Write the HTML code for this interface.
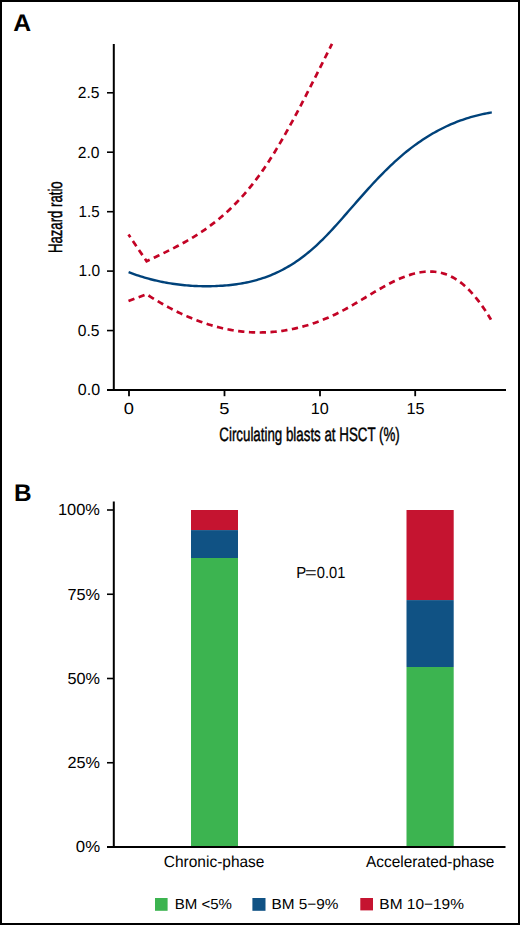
<!DOCTYPE html>
<html><head><meta charset="utf-8"><style>
html,body{margin:0;padding:0;background:#fff;}
svg{display:block;font-family:"Liberation Sans", sans-serif;text-rendering:geometricPrecision;}
</style></head><body>
<svg width="520" height="925" viewBox="0 0 520 925">
<rect x="1" y="1" width="518" height="923" fill="#fff" stroke="#000" stroke-width="2"/>
<line x1="113.8" y1="44" x2="113.8" y2="391" stroke="#000" stroke-width="2"/>
<line x1="107" y1="390" x2="506" y2="390" stroke="#000" stroke-width="2"/>
<line x1="107" y1="330.56" x2="113.8" y2="330.56" stroke="#000" stroke-width="1.6"/>
<line x1="107" y1="271.1" x2="113.8" y2="271.1" stroke="#000" stroke-width="1.6"/>
<line x1="107" y1="211.7" x2="113.8" y2="211.7" stroke="#000" stroke-width="1.6"/>
<line x1="107" y1="152.2" x2="113.8" y2="152.2" stroke="#000" stroke-width="1.6"/>
<line x1="107" y1="92.8" x2="113.8" y2="92.8" stroke="#000" stroke-width="1.6"/>
<line x1="129" y1="390" x2="129" y2="396.2" stroke="#000" stroke-width="1.8"/>
<line x1="224.5" y1="390" x2="224.5" y2="396.2" stroke="#000" stroke-width="1.8"/>
<line x1="320" y1="390" x2="320" y2="396.2" stroke="#000" stroke-width="1.8"/>
<line x1="415.2" y1="390" x2="415.2" y2="396.2" stroke="#000" stroke-width="1.8"/>
<path d="M128.5,234.5 L146.60,261.24 L148.60,260.29 L150.60,259.33 L152.60,258.38 L154.60,257.43 L156.60,256.47 L158.60,255.51 L160.60,254.55 L162.60,253.58 L164.60,252.61 L166.60,251.63 L168.60,250.63 L170.60,249.63 L172.60,248.62 L174.60,247.59 L176.60,246.55 L178.60,245.49 L180.60,244.42 L182.60,243.33 L184.60,242.21 L186.60,241.08 L188.60,239.93 L190.60,238.75 L192.60,237.55 L194.60,236.33 L196.60,235.08 L198.60,233.80 L200.60,232.49 L202.60,231.15 L204.60,229.78 L206.60,228.37 L208.60,226.93 L210.60,225.46 L212.60,223.95 L214.60,222.40 L216.60,220.81 L218.60,219.18 L220.60,217.51 L222.60,215.80 L224.60,214.04 L226.60,212.24 L228.60,210.39 L230.60,208.49 L232.60,206.55 L234.60,204.55 L236.60,202.50 L238.60,200.40 L240.60,198.25 L242.60,196.04 L244.60,193.77 L246.60,191.45 L248.60,189.06 L250.60,186.62 L252.60,184.11 L254.60,181.54 L256.60,178.91 L258.60,176.21 L260.60,173.45 L262.60,170.61 L264.60,167.71 L266.60,164.74 L268.60,161.70 L270.60,158.60 L272.60,155.43 L274.60,152.20 L276.60,148.91 L278.60,145.57 L280.60,142.17 L282.60,138.72 L284.60,135.22 L286.60,131.68 L288.60,128.09 L290.60,124.46 L292.60,120.79 L294.60,117.08 L296.60,113.34 L298.60,109.57 L300.60,105.76 L302.60,101.93 L304.60,98.07 L306.60,94.19 L308.60,90.29 L310.60,86.37 L312.60,82.44 L314.60,78.49 L316.60,74.53 L318.60,70.56 L320.60,66.59 L322.60,62.61 L324.60,58.63 L326.60,54.65 L328.60,50.67 L330.60,46.70 L332.00,43.93" fill="none" stroke="#c30325" stroke-width="2.7" stroke-dasharray="6.3 4.5" stroke-dashoffset="3"/>
<path d="M128.5,300.9 L146.60,294.21 L148.60,295.50 L150.60,296.78 L152.60,298.04 L154.60,299.27 L156.60,300.49 L158.60,301.68 L160.60,302.85 L162.60,304.00 L164.60,305.13 L166.60,306.24 L168.60,307.33 L170.60,308.39 L172.60,309.44 L174.60,310.46 L176.60,311.46 L178.60,312.44 L180.60,313.39 L182.60,314.33 L184.60,315.24 L186.60,316.13 L188.60,317.00 L190.60,317.84 L192.60,318.66 L194.60,319.46 L196.60,320.24 L198.60,320.99 L200.60,321.72 L202.60,322.43 L204.60,323.12 L206.60,323.78 L208.60,324.42 L210.60,325.03 L212.60,325.62 L214.60,326.19 L216.60,326.73 L218.60,327.25 L220.60,327.75 L222.60,328.22 L224.60,328.66 L226.60,329.09 L228.60,329.49 L230.60,329.86 L232.60,330.21 L234.60,330.53 L236.60,330.83 L238.60,331.11 L240.60,331.36 L242.60,331.58 L244.60,331.78 L246.60,331.96 L248.60,332.11 L250.60,332.23 L252.60,332.33 L254.60,332.41 L256.60,332.46 L258.60,332.48 L260.60,332.48 L262.60,332.45 L264.60,332.40 L266.60,332.32 L268.60,332.22 L270.60,332.10 L272.60,331.94 L274.60,331.77 L276.60,331.56 L278.60,331.34 L280.60,331.08 L282.60,330.80 L284.60,330.50 L286.60,330.17 L288.60,329.82 L290.60,329.44 L292.60,329.03 L294.60,328.60 L296.60,328.15 L298.60,327.67 L300.60,327.16 L302.60,326.63 L304.60,326.07 L306.60,325.49 L308.60,324.88 L310.60,324.25 L312.60,323.59 L314.60,322.91 L316.60,322.20 L318.60,321.47 L320.60,320.71 L322.60,319.92 L324.60,319.11 L326.60,318.27 L328.60,317.41 L330.60,316.52 L332.60,315.61 L334.60,314.67 L336.60,313.71 L338.60,312.72 L340.60,311.70 L342.60,310.66 L344.60,309.60 L346.60,308.51 L348.60,307.39 L350.60,306.26 L352.60,305.11 L354.60,303.94 L356.60,302.76 L358.60,301.57 L360.60,300.38 L362.60,299.17 L364.60,297.97 L366.60,296.76 L368.60,295.55 L370.60,294.35 L372.60,293.15 L374.60,291.96 L376.60,290.78 L378.60,289.62 L380.60,288.47 L382.60,287.33 L384.60,286.22 L386.60,285.13 L388.60,284.07 L390.60,283.03 L392.60,282.02 L394.60,281.04 L396.60,280.10 L398.60,279.19 L400.60,278.32 L402.60,277.49 L404.60,276.71 L406.60,275.97 L408.60,275.28 L410.60,274.64 L412.60,274.05 L414.60,273.52 L416.60,273.04 L418.60,272.63 L420.60,272.28 L422.60,271.99 L424.60,271.77 L426.60,271.62 L428.60,271.54 L430.60,271.53 L432.60,271.61 L434.60,271.76 L436.60,272.00 L438.60,272.32 L440.60,272.74 L442.60,273.24 L444.60,273.85 L446.60,274.55 L448.60,275.35 L450.60,276.25 L452.60,277.27 L454.60,278.39 L456.60,279.62 L458.60,280.97 L460.60,282.44 L462.60,284.04 L464.60,285.75 L466.60,287.59 L468.60,289.54 L470.60,291.62 L472.60,293.82 L474.60,296.15 L476.60,298.59 L478.60,301.15 L480.60,303.83 L482.60,306.62 L484.60,309.54 L486.60,312.57 L488.60,315.72 L490.60,318.99 L491.00,319.66" fill="none" stroke="#c30325" stroke-width="2.7" stroke-dasharray="6.3 4.5"/>
<path d="M128.60,272.21 L130.60,272.96 L132.60,273.68 L134.60,274.38 L136.60,275.06 L138.60,275.72 L140.60,276.36 L142.60,276.97 L144.60,277.57 L146.60,278.14 L148.60,278.69 L150.60,279.22 L152.60,279.73 L154.60,280.22 L156.60,280.69 L158.60,281.14 L160.60,281.57 L162.60,281.98 L164.60,282.37 L166.60,282.74 L168.60,283.09 L170.60,283.42 L172.60,283.73 L174.60,284.03 L176.60,284.30 L178.60,284.56 L180.60,284.79 L182.60,285.01 L184.60,285.21 L186.60,285.39 L188.60,285.55 L190.60,285.70 L192.60,285.83 L194.60,285.93 L196.60,286.03 L198.60,286.10 L200.60,286.16 L202.60,286.20 L204.60,286.22 L206.60,286.23 L208.60,286.22 L210.60,286.19 L212.60,286.15 L214.60,286.09 L216.60,286.01 L218.60,285.92 L220.60,285.81 L222.60,285.68 L224.60,285.54 L226.60,285.37 L228.60,285.19 L230.60,284.98 L232.60,284.75 L234.60,284.50 L236.60,284.23 L238.60,283.93 L240.60,283.61 L242.60,283.26 L244.60,282.89 L246.60,282.49 L248.60,282.06 L250.60,281.60 L252.60,281.11 L254.60,280.59 L256.60,280.04 L258.60,279.46 L260.60,278.85 L262.60,278.20 L264.60,277.52 L266.60,276.80 L268.60,276.05 L270.60,275.26 L272.60,274.43 L274.60,273.57 L276.60,272.66 L278.60,271.72 L280.60,270.74 L282.60,269.71 L284.60,268.65 L286.60,267.54 L288.60,266.38 L290.60,265.19 L292.60,263.94 L294.60,262.65 L296.60,261.32 L298.60,259.94 L300.60,258.50 L302.60,257.02 L304.60,255.49 L306.60,253.91 L308.60,252.28 L310.60,250.60 L312.60,248.87 L314.60,247.09 L316.60,245.27 L318.60,243.40 L320.60,241.48 L322.60,239.52 L324.60,237.52 L326.60,235.48 L328.60,233.39 L330.60,231.27 L332.60,229.12 L334.60,226.93 L336.60,224.72 L338.60,222.48 L340.60,220.22 L342.60,217.95 L344.60,215.66 L346.60,213.37 L348.60,211.06 L350.60,208.76 L352.60,206.46 L354.60,204.17 L356.60,201.88 L358.60,199.60 L360.60,197.34 L362.60,195.08 L364.60,192.84 L366.60,190.62 L368.60,188.41 L370.60,186.22 L372.60,184.05 L374.60,181.91 L376.60,179.78 L378.60,177.68 L380.60,175.60 L382.60,173.55 L384.60,171.53 L386.60,169.54 L388.60,167.58 L390.60,165.66 L392.60,163.76 L394.60,161.90 L396.60,160.08 L398.60,158.30 L400.60,156.56 L402.60,154.85 L404.60,153.18 L406.60,151.55 L408.60,149.96 L410.60,148.40 L412.60,146.88 L414.60,145.39 L416.60,143.94 L418.60,142.53 L420.60,141.15 L422.60,139.80 L424.60,138.49 L426.60,137.22 L428.60,135.98 L430.60,134.77 L432.60,133.59 L434.60,132.45 L436.60,131.34 L438.60,130.27 L440.60,129.22 L442.60,128.21 L444.60,127.23 L446.60,126.28 L448.60,125.36 L450.60,124.47 L452.60,123.61 L454.60,122.78 L456.60,121.98 L458.60,121.21 L460.60,120.47 L462.60,119.76 L464.60,119.07 L466.60,118.42 L468.60,117.79 L470.60,117.19 L472.60,116.61 L474.60,116.07 L476.60,115.55 L478.60,115.05 L480.60,114.58 L482.60,114.14 L484.60,113.72 L486.60,113.33 L488.60,112.96 L490.60,112.62 L491.80,112.43" fill="none" stroke="#00427a" stroke-width="2.4" stroke-linejoin="round"/>
<line x1="113.8" y1="501.5" x2="113.8" y2="848" stroke="#000" stroke-width="2"/>
<line x1="107" y1="847" x2="505.5" y2="847" stroke="#000" stroke-width="2"/>
<line x1="107" y1="510" x2="113.8" y2="510" stroke="#000" stroke-width="1.6"/>
<line x1="107" y1="594.25" x2="113.8" y2="594.25" stroke="#000" stroke-width="1.6"/>
<line x1="107" y1="678.5" x2="113.8" y2="678.5" stroke="#000" stroke-width="1.6"/>
<line x1="107" y1="762.75" x2="113.8" y2="762.75" stroke="#000" stroke-width="1.6"/>
<rect x="191" y="510" width="47" height="20.1" fill="#c51430"/>
<rect x="191" y="530.1" width="47" height="27.9" fill="#105284"/>
<rect x="191" y="558" width="47" height="288" fill="#3cb450"/>
<rect x="406.5" y="510" width="47.2" height="90.1" fill="#c51430"/>
<rect x="406.5" y="600.1" width="47.2" height="66.9" fill="#105284"/>
<rect x="406.5" y="667" width="47.2" height="179" fill="#3cb450"/>
<rect x="155" y="898" width="12.6" height="12.8" fill="#3cb450"/>
<rect x="252.4" y="898" width="13.1" height="12.8" fill="#105284"/>
<rect x="360.3" y="898" width="12.7" height="12.4" fill="#c51430"/>
<text transform="translate(14.30,30.60) scale(1.0312,1) translate(-1.00,0)" font-size="24" font-weight="700">A</text>
<text transform="translate(16.00,501.30) scale(1.0143,1) translate(-2.00,0)" font-size="24" font-weight="700">B</text>
<text transform="translate(78.80,98.10) scale(0.9762,1) translate(-1.00,0)" font-size="16" font-weight="400">2.5</text>
<text transform="translate(78.80,157.50) scale(0.9762,1) translate(-1.00,0)" font-size="16" font-weight="400">2.0</text>
<text transform="translate(79.50,217.00) scale(0.9429,1) translate(-1.00,0)" font-size="16" font-weight="400">1.5</text>
<text transform="translate(79.50,276.40) scale(0.9667,1) translate(-1.00,0)" font-size="16" font-weight="400">1.0</text>
<text transform="translate(78.80,335.90) scale(0.9762,1) translate(-1.00,0)" font-size="16" font-weight="400">0.5</text>
<text transform="translate(78.80,395.30) scale(1.0000,1) translate(-1.00,0)" font-size="16" font-weight="400">0.0</text>
<text transform="translate(125.00,413.80) scale(1.1429,1) translate(-1.00,0)" font-size="16" font-weight="400">0</text>
<text transform="translate(220.30,413.80) scale(1.1429,1) translate(-1.00,0)" font-size="16" font-weight="400">5</text>
<text transform="translate(311.80,413.80) scale(1.0125,1) translate(-1.00,0)" font-size="16" font-weight="400">10</text>
<text transform="translate(407.60,413.80) scale(1.0125,1) translate(-1.00,0)" font-size="16" font-weight="400">15</text>
<text transform="translate(220.00,440.70) scale(0.6832,1) translate(-1.00,0)" font-size="19.5" font-weight="400" stroke="#000" stroke-width="0.45">Circulating blasts at HSCT (%)</text>
<text transform="translate(61.90,251.70) rotate(-90) scale(0.6748,1) translate(-2.00,0)" font-size="19.5" font-weight="400" stroke="#000" stroke-width="0.45">Hazard ratio</text>
<text transform="translate(59.00,515.20) scale(1.0250,1) translate(-1.00,0)" font-size="16" font-weight="400">100%</text>
<text transform="translate(68.50,599.60) scale(1.0161,1) translate(-1.00,0)" font-size="16" font-weight="400">75%</text>
<text transform="translate(68.50,683.80) scale(1.0161,1) translate(-1.00,0)" font-size="16" font-weight="400">50%</text>
<text transform="translate(68.50,768.10) scale(1.0161,1) translate(-1.00,0)" font-size="16" font-weight="400">25%</text>
<text transform="translate(76.90,852.30) scale(1.0500,1) translate(-1.00,0)" font-size="16" font-weight="400">0%</text>
<text transform="translate(297.20,577.70) scale(0.9333,1) translate(-1.00,0)" font-size="16" font-weight="400">P</text>
<text transform="translate(306.20,578.10) scale(1.2500,1) translate(-1.00,0)" font-size="16" font-weight="400">=</text>
<text transform="translate(317.70,577.70) scale(0.9167,1) translate(-1.00,0)" font-size="16" font-weight="400">0.01</text>
<text transform="translate(164.80,866.90) scale(0.9670,1) translate(-1.00,0)" font-size="16" font-weight="400">Chronic-phase</text>
<text transform="translate(366.00,866.90) scale(0.9624,1) translate(0.00,0)" font-size="16" font-weight="400">Accelerated-phase</text>
<text transform="translate(175.70,909.20) scale(1.0370,1) translate(-1.00,0)" font-size="14.5" font-weight="400">BM &lt;5%</text>
<text transform="translate(272.50,909.20) scale(1.0581,1) translate(-1.00,0)" font-size="14.5" font-weight="400">BM 5−9%</text>
<text transform="translate(380.40,909.20) scale(1.0654,1) translate(-1.00,0)" font-size="14.5" font-weight="400">BM 10−19%</text>
</svg>
</body></html>
